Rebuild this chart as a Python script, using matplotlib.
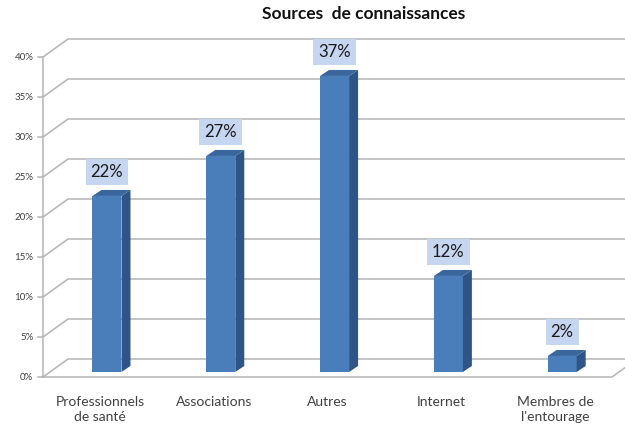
import matplotlib.pyplot as plt
from matplotlib.patches import Polygon

categories = ['Professionnels\nde santé', 'Associations', 'Autres', 'Internet', 'Membres de\nl\'entourage']
values = [22, 27, 37, 12, 2]
ticks = [0, 5, 10, 15, 20, 25, 30, 35, 40]
title = 'Sources  de connaissances'

# oblique "3d" look: depth shifts points right and up (data units)
depth_dx, depth_dy = 0.22, 2.25
bar_dx, bar_dy = 0.062, 0.63      # where the bar front sits inside the depth
side_dx, side_dy = 0.079, 0.75    # thickness of the bar
bar_w = 0.255

front = '#4a7ebb'
side = '#2f5486'
top = '#3a669e'
grid = '#b4b4b4'
txt = '#404040'

fig = plt.figure(figsize=(6.25, 4.3), dpi=100)
ax = fig.add_axes([0, 0, 1, 1])
ax.set_xlim(-0.878, 4.614)
ax.set_ylim(-6.625, 47.125)
ax.axis('off')

xl, xr = -0.5, len(categories) - 0.5

# back wall gridlines + left wall diagonals
for t in ticks:
    ax.plot([xl, xl + depth_dx, 6], [t, t + depth_dy, t + depth_dy], color=grid, lw=1.1, zorder=1)
    ax.plot([xl - 0.04, xl], [t, t], color=grid, lw=1.1, zorder=1)
    ax.text(xl - 0.085, t, f'{t}%', ha='right', va='center', fontsize=7, color=txt, family='Lato')
# front axis and floor edge
ax.plot([xl, xl], [0, ticks[-1]], color=grid, lw=1.1, zorder=1)
ax.plot([xl, xr, xr + depth_dx], [0, 0, depth_dy], color=grid, lw=1.1, zorder=1)

for i, (c, v) in enumerate(zip(categories, values)):
    x0 = i - bar_w / 2 + bar_dx
    x1 = x0 + bar_w
    y0 = bar_dy
    y1 = v + bar_dy
    ax.add_patch(Polygon([(x0, y0), (x1, y0), (x1, y1), (x0, y1)], closed=True,
                         fc=front, ec='none', zorder=3))
    ax.add_patch(Polygon([(x1, y0), (x1 + side_dx, y0 + side_dy), (x1 + side_dx, y1 + side_dy), (x1, y1)],
                         closed=True, fc=side, ec='none', zorder=3))
    ax.add_patch(Polygon([(x0, y1), (x1, y1), (x1 + side_dx, y1 + side_dy), (x0 + side_dx, y1 + side_dy)],
                         closed=True, fc=top, ec='none', zorder=3))
    ax.text(i + bar_dx, y1 + 3.0, f'{v}%', ha='center', va='center', fontsize=12, color='#1a1a1a',
            family='Lato', zorder=4,
            bbox=dict(boxstyle='square,pad=0.3', fc='#c6d5f0', ec='none'))
    ax.text(i, -2.4, c, ha='center', va='top', fontsize=10, color=txt, family='Lato', linespacing=1.3)

ax.text(2.32, 45.4, title, ha='center', va='center', fontsize=12.5, fontweight='bold', color='#111111',
        family='Lato')

fig.savefig('out.png', dpi=100)
